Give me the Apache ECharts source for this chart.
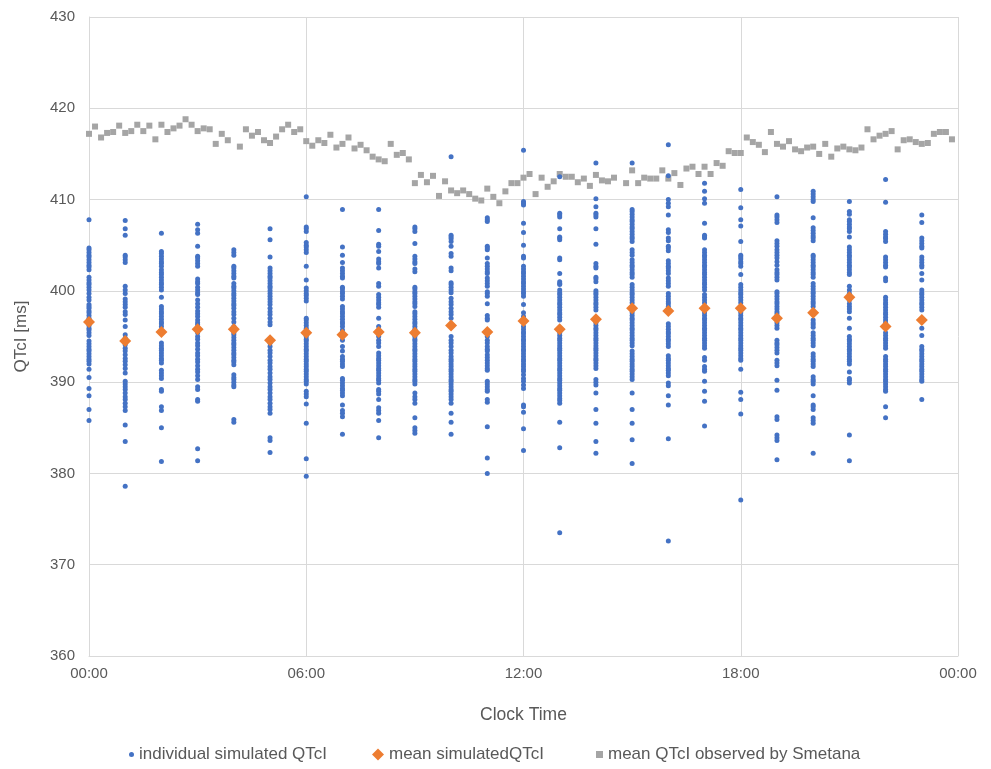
<!DOCTYPE html>
<html><head><meta charset="utf-8">
<script src="https://cdn.jsdelivr.net/npm/echarts@6/dist/echarts.min.js"></script>
<style>html,body{margin:0;padding:0;background:#fff}#c{width:991px;height:769px}</style>
</head><body><div id="c"></div>
<script>
var seriesNames = ['individual simulated QTcI', 'mean simulatedQTcI', 'mean QTcI observed by Smetana'];
var xTickLabels = ['00:00', '06:00', '12:00', '18:00', '00:00'];
var yTicks = [360, 370, 380, 390, 400, 410, 420, 430];
var hours = [0,1,2,3,4,5,6,7,8,9,10,11,12,13,14,15,16,17,18,19,20,21,22,23];

var sim00 = [407.8,404.7,404.5,404.2,403.9,403.7,403.4,403.1,402.8,402.6,402.3,401.5,401.2,400.9,400.7,400.4,400.1,399.7,399.3,399.0,398.5,398.3,398.1,397.8,397.6,397.3,397.0,396.8,396.5,396.2,395.9,395.7,395.4,395.1,394.5,394.2,393.9,393.6,393.4,393.1,392.8,392.5,392.3,392.0,391.4,390.5,389.3,388.5,387.0,385.8];
var sim01 = [407.7,406.8,406.1,403.9,403.7,403.4,403.1,400.5,400.1,399.7,399.1,398.8,398.5,398.2,397.7,397.4,396.8,396.1,395.2,394.8,394.5,394.1,393.7,393.4,393.0,392.6,392.3,391.9,391.5,391.0,390.1,389.8,389.5,389.2,388.8,388.4,388.1,387.7,387.3,386.9,385.3,383.5,378.6];
var sim02 = [406.3,404.3,404.1,403.8,403.5,403.2,403.0,402.7,402.3,402.0,401.8,401.5,401.2,400.9,400.7,400.4,400.1,399.3,398.3,398.0,397.7,397.5,397.2,396.9,396.6,396.4,396.1,394.3,394.0,393.7,393.5,393.2,392.9,392.6,392.4,392.1,391.3,391.0,390.7,390.4,389.2,389.0,387.3,386.9,385.0,381.3];
var sim03 = [407.3,406.7,406.3,404.9,403.8,403.6,403.3,403.0,402.7,401.3,401.0,400.8,400.4,400.1,399.8,399.6,399.0,398.6,398.2,397.8,397.5,397.2,396.8,396.5,396.3,396.0,395.7,395.4,395.0,394.7,394.3,394.0,393.6,393.2,392.9,392.5,392.2,391.8,391.4,391.1,390.7,390.3,389.5,389.2,388.1,387.9,382.7,381.4];
var sim04 = [404.5,404.2,403.9,402.7,402.5,402.2,401.9,401.6,401.4,400.8,400.5,400.3,400.0,399.7,399.5,399.2,398.9,398.6,398.4,398.1,397.7,397.4,397.0,396.6,396.1,395.7,395.4,395.2,394.9,394.6,394.3,394.1,393.8,393.5,393.2,393.0,392.7,392.4,392.2,391.9,390.8,390.5,390.3,390.0,389.7,389.5,385.9,385.6];
var sim05 = [406.8,405.6,403.7,402.5,402.2,401.9,401.6,401.4,401.1,400.8,400.5,400.3,400.0,399.7,399.4,399.1,398.8,398.5,398.1,397.7,397.4,397.0,396.6,396.3,394.3,393.9,393.5,393.2,392.8,392.4,392.1,391.7,391.4,391.0,390.6,390.3,389.9,389.5,389.2,388.8,388.4,388.1,387.7,387.3,387.0,386.6,383.9,383.6,382.3];
var sim06 = [410.3,407.0,406.8,406.5,405.3,405.0,404.8,404.5,404.2,402.7,401.2,400.3,400.0,399.7,399.5,399.2,398.9,397.0,396.8,396.5,396.2,395.9,395.0,394.7,394.5,394.2,393.9,393.6,393.4,393.1,392.8,392.5,392.3,392.0,391.7,391.4,391.2,390.9,390.6,390.3,390.1,389.8,389.0,388.7,388.4,387.6,385.5,381.6,379.7];
var sim07 = [408.9,404.8,403.9,403.1,402.5,402.2,401.9,401.6,401.4,400.4,400.2,399.9,399.7,399.4,399.1,398.3,398.0,397.7,397.5,397.2,396.9,396.6,396.4,396.1,395.7,395.0,394.6,393.9,393.4,392.8,392.5,392.3,392.0,391.7,390.4,390.2,389.9,389.6,389.3,389.1,388.8,388.5,387.5,386.9,386.6,386.2,384.3];
var sim08 = [408.9,406.6,405.1,404.9,404.3,403.5,403.2,403.0,402.5,400.8,400.5,399.6,399.3,399.0,398.7,398.5,398.2,397.0,396.1,395.0,394.6,394.3,393.9,393.2,392.9,392.6,392.4,392.1,391.8,391.5,391.3,391.0,390.7,390.4,390.2,389.9,389.2,389.0,388.7,388.1,387.2,386.9,386.6,385.8,383.9];
var sim09 = [407.0,406.8,406.5,405.2,403.8,403.5,403.2,403.0,402.4,402.1,400.4,400.2,399.9,399.7,399.4,399.1,398.8,398.6,398.3,397.7,397.5,397.2,396.9,396.6,396.4,396.1,395.8,395.0,394.7,394.5,394.2,393.9,393.6,393.4,393.1,392.8,392.5,392.3,392.0,391.7,391.4,391.2,390.9,390.6,390.3,390.1,389.8,388.8,388.4,388.1,387.7,386.1,385.0,384.7,384.4];
var sim10 = [414.7,406.1,405.9,405.7,405.4,404.9,404.1,403.8,402.5,402.2,400.9,400.7,400.4,400.1,399.8,399.2,398.8,398.5,398.1,397.7,397.4,397.0,395.0,394.6,394.3,393.9,393.5,393.2,392.8,392.5,392.3,392.0,391.7,391.4,391.2,390.9,390.6,390.3,390.1,389.8,389.5,389.2,389.0,388.7,388.4,388.1,387.7,386.6,385.6,384.3];
var sim11 = [408.0,407.8,407.6,404.9,404.7,404.5,403.6,403.0,402.7,402.4,402.1,401.9,401.4,401.1,400.8,400.5,399.9,399.7,399.4,398.6,397.3,397.0,396.8,395.0,394.6,394.3,393.9,393.6,393.4,393.0,392.7,392.4,392.1,391.8,391.5,391.3,390.1,389.8,389.5,389.2,389.0,388.1,387.8,385.1,381.7,380.0];
var sim12 = [415.4,409.8,409.6,409.4,407.4,406.4,405.0,403.8,403.6,402.7,402.4,402.1,401.9,401.6,401.3,401.0,400.8,400.5,400.2,399.9,399.7,399.4,398.5,397.6,397.2,396.1,395.8,395.5,395.3,395.0,394.7,394.5,394.2,393.9,393.6,393.4,393.1,392.8,392.5,392.3,392.0,391.7,391.4,391.2,390.8,390.4,390.1,389.7,389.3,387.5,387.3,386.7,384.9,382.5];
var sim13 = [412.5,408.5,408.3,408.1,406.8,405.9,405.8,405.6,403.6,403.4,401.9,401.0,400.8,400.7,400.1,399.8,399.6,399.3,399.0,398.7,398.5,398.2,397.9,397.6,397.4,397.1,396.8,395.4,395.1,394.8,394.6,394.3,394.0,393.7,393.5,393.2,392.9,392.6,392.4,392.1,391.8,391.5,391.3,391.0,390.7,390.4,390.2,389.9,389.6,389.3,389.1,388.8,388.5,388.2,388.0,387.7,385.6,382.8,373.5];
var sim14 = [414.0,410.1,409.2,408.5,408.3,408.1,406.8,405.1,403.0,402.7,402.5,401.5,401.3,401.0,400.0,399.8,399.6,399.3,399.0,398.7,398.5,398.2,397.9,396.5,396.2,395.9,395.7,395.4,395.1,394.8,394.6,394.3,394.0,393.7,393.5,393.2,392.9,392.6,392.4,392.1,391.8,391.5,390.3,390.0,389.7,388.8,387.0,385.5,383.5,382.2];
var sim15 = [414.0,408.9,408.7,408.4,408.1,407.8,407.6,407.3,407.0,406.8,406.5,406.2,405.9,405.7,405.4,404.5,404.2,403.9,403.4,403.1,402.8,402.6,402.3,402.0,401.8,401.5,400.7,400.4,400.1,399.8,399.6,399.3,399.0,398.7,397.6,397.3,397.0,396.8,396.5,396.2,395.9,395.7,395.4,395.1,394.8,394.6,394.3,394.0,393.4,393.1,392.8,392.5,392.3,392.0,391.7,391.4,391.2,390.9,390.6,390.3,388.8,387.0,385.5,383.7,381.1];
var sim16 = [416.0,412.6,410.0,409.6,409.2,408.3,406.7,406.4,405.8,405.5,404.9,404.7,404.4,403.3,403.0,402.7,402.5,402.2,401.9,401.4,401.1,400.8,400.5,399.7,399.4,399.1,398.8,398.6,398.3,396.4,396.1,395.8,395.5,395.3,395.0,394.7,394.5,394.2,393.9,392.9,392.6,392.4,392.1,391.8,391.5,391.3,391.0,390.7,389.9,389.6,388.5,387.5,383.8,372.6];
var sim17 = [411.8,410.9,410.1,409.6,407.4,406.1,405.9,405.8,404.5,404.2,403.9,403.7,403.4,403.1,402.8,402.6,402.3,402.0,401.8,401.5,401.2,400.9,400.7,400.4,400.1,399.6,399.3,399.0,398.7,397.6,397.3,397.0,396.8,396.5,396.2,395.9,395.7,395.4,395.1,394.8,394.6,394.3,394.0,393.7,392.7,392.4,391.7,391.4,391.2,390.1,389.0,387.9,385.2];
var sim18 = [411.1,409.1,407.8,407.1,405.4,403.9,403.7,403.5,403.2,403.0,402.7,401.8,400.7,400.4,400.1,399.8,399.6,399.3,399.0,398.7,397.6,397.3,397.0,396.8,396.5,396.2,395.9,395.7,395.4,395.1,394.8,394.6,394.3,394.0,393.7,393.5,393.2,392.9,392.6,392.4,391.4,388.9,388.1,386.5,377.1];
var sim19 = [410.3,408.3,408.1,407.8,407.5,405.5,405.2,404.9,404.5,404.2,403.9,403.6,403.2,402.8,402.3,402.0,401.8,401.5,401.2,399.9,399.7,399.4,399.1,398.8,398.6,398.3,398.0,397.7,397.5,396.5,396.2,395.9,394.6,394.3,394.1,393.8,393.5,393.2,392.4,392.1,391.8,390.2,389.1,386.2,385.9,384.2,383.9,383.6,381.5];
var sim20 = [410.9,410.6,410.3,410.0,409.8,408.0,406.9,406.6,406.3,406.0,405.8,405.5,403.9,403.7,403.4,403.1,402.8,402.6,402.3,402.0,401.8,401.5,400.8,400.5,400.2,399.9,399.7,399.4,399.1,398.8,398.6,398.3,396.8,396.5,396.3,396.0,395.4,395.1,394.8,394.6,394.3,394.0,393.1,392.8,392.5,392.3,392.0,391.7,390.6,390.3,390.1,389.8,388.5,387.5,387.3,387.0,386.1,385.8,385.5,382.2];
var sim21 = [409.8,408.7,408.4,407.8,407.6,407.3,407.0,406.8,406.5,405.9,404.8,404.5,404.2,403.9,403.7,403.4,403.1,402.8,402.6,402.3,402.0,401.8,400.5,400.1,399.7,399.0,398.6,398.3,398.0,397.7,397.0,395.9,395.0,394.7,394.5,394.2,393.9,393.6,393.4,393.1,392.8,392.5,392.3,392.0,391.1,390.4,390.2,389.9,384.2,381.4];
var sim22 = [412.2,409.7,406.5,406.2,405.9,405.7,405.4,403.7,403.4,403.1,402.8,402.6,401.4,401.1,399.3,399.0,398.7,398.5,398.2,397.9,397.6,397.4,397.1,396.8,396.5,395.4,395.1,394.8,394.6,394.3,394.0,393.7,392.8,392.5,392.3,392.0,391.7,391.4,391.2,390.9,390.6,390.3,390.1,389.8,389.5,389.2,389.0,387.3,386.1];
var sim23 = [408.3,407.5,405.8,405.5,405.2,404.9,404.7,403.7,403.4,403.1,402.8,402.6,401.9,401.2,400.1,399.8,399.6,399.3,399.0,398.7,398.5,398.2,397.9,395.9,395.1,393.9,393.6,393.4,393.1,392.8,392.5,392.3,392.0,391.7,391.4,391.2,390.9,390.6,390.3,390.1,388.1];
var individualByHour = [sim00,sim01,sim02,sim03,sim04,sim05,sim06,sim07,sim08,sim09,sim10,sim11,sim12,sim13,sim14,sim15,sim16,sim17,sim18,sim19,sim20,sim21,sim22,sim23];

var meanSimulated = [396.6,394.5,395.5,395.8,395.8,394.6,395.4,395.2,395.5,395.4,396.2,395.5,396.7,395.8,396.9,398.1,397.8,398.1,398.1,397.0,397.6,399.3,396.1,396.8];

// observed by Smetana, every 10 minutes from 00:00 (null = no point)
var observedMinutesStep = 10;
var observedQTcI = [
417.2,418.0,416.8,417.3,417.4,418.1,417.3,417.5,418.2,417.5,418.1,416.6,
418.2,417.4,417.8,418.1,418.8,418.2,417.5,417.8,417.7,416.1,417.2,416.5,
null,415.8,417.7,417.0,417.4,416.5,416.2,416.9,417.7,418.2,417.4,417.7,
416.4,415.9,416.5,416.2,417.1,415.7,416.1,416.8,415.6,416.0,415.4,414.7,
414.4,414.2,416.1,414.9,415.1,414.4,411.8,412.7,411.9,412.6,410.4,412.0,
411.0,410.7,411.0,410.6,410.1,409.9,411.2,410.3,409.6,410.9,411.8,411.8,
412.4,412.8,410.6,412.4,411.4,412.0,412.8,412.5,412.5,411.9,412.3,411.5,
412.7,412.1,412.0,412.4,null,411.8,413.2,411.8,412.4,412.3,412.3,413.2,
412.3,412.9,411.6,413.4,413.6,412.8,413.6,412.8,414.0,413.7,415.3,415.1,
415.1,416.8,416.3,416.0,415.2,417.4,416.1,415.8,416.4,415.5,415.3,415.7,
415.8,415.0,416.1,414.7,415.6,415.8,415.5,415.4,415.7,417.7,416.6,417.0,
417.2,417.5,415.5,416.5,416.6,416.3,416.1,416.2,417.2,417.4,417.4,416.6
];

var individualData = [];
individualByHour.forEach(function (vals, h) {
  vals.forEach(function (v) { individualData.push([hours[h], v]); });
});
var meanData = hours.map(function (h, i) { return [h, meanSimulated[i]]; });
var observedData = [];
observedQTcI.forEach(function (v, i) {
  if (v !== null) observedData.push([i * observedMinutesStep / 60, v]);
});

var textColor = '#595959';
var font = 'Liberation Sans, Arial, sans-serif';
var chart = echarts.init(document.getElementById('c'), null, { renderer: 'canvas' });
chart.setOption({
  animation: false,
  backgroundColor: '#ffffff',
  grid: { left: 89, right: 33, top: 17, bottom: 113, containLabel: false },
  xAxis: {
    type: 'value', min: 0, max: 24, interval: 6,
    name: 'Clock Time', nameLocation: 'middle', nameGap: 50,
    nameTextStyle: { color: textColor, fontSize: 17.5, fontFamily: font },
    axisLine: { show: true, lineStyle: { color: '#D9D9D9', width: 1 } },
    axisTick: { show: false },
    splitLine: { show: true, lineStyle: { color: '#D9D9D9', width: 1 } },
    axisLabel: { color: textColor, fontSize: 15, fontFamily: font, margin: 10,
      formatter: function (v) { return xTickLabels[Math.round(v / 6)]; } }
  },
  yAxis: {
    type: 'value', min: yTicks[0], max: yTicks[yTicks.length - 1], interval: 10,
    name: 'QTcI [ms]', nameLocation: 'middle', nameGap: 59,
    nameTextStyle: { color: textColor, fontSize: 17, fontFamily: font },
    axisLine: { show: true, lineStyle: { color: '#D9D9D9', width: 1 } },
    axisTick: { show: false },
    splitLine: { show: true, lineStyle: { color: '#D9D9D9', width: 1 } },
    axisLabel: { color: textColor, fontSize: 15, fontFamily: font, margin: 14 }
  },
  legend: [
    { data: [seriesNames[0]], left: 124, bottom: 1, itemWidth: 5, itemHeight: 5,
      textStyle: { color: textColor, fontSize: 17, fontFamily: font } },
    { data: [seriesNames[1]], left: 367, bottom: 1, itemWidth: 12, itemHeight: 12,
      textStyle: { color: textColor, fontSize: 17, fontFamily: font } },
    { data: [seriesNames[2]], left: 591, bottom: 1, itemWidth: 7, itemHeight: 7,
      textStyle: { color: textColor, fontSize: 17, fontFamily: font } }
  ],
  series: [
    { name: seriesNames[2], type: 'scatter', data: observedData, symbol: 'rect', symbolSize: 6,
      itemStyle: { color: '#A5A5A5', opacity: 1 }, z: 2 },
    { name: seriesNames[0], type: 'scatter', data: individualData, symbol: 'circle', symbolSize: 5,
      itemStyle: { color: '#4472C4', opacity: 1 }, z: 3 },
    { name: seriesNames[1], type: 'scatter', data: meanData, symbol: 'diamond', symbolSize: 12,
      itemStyle: { color: '#ED7D31', opacity: 1 }, z: 4 }
  ]
});
</script></body></html>
